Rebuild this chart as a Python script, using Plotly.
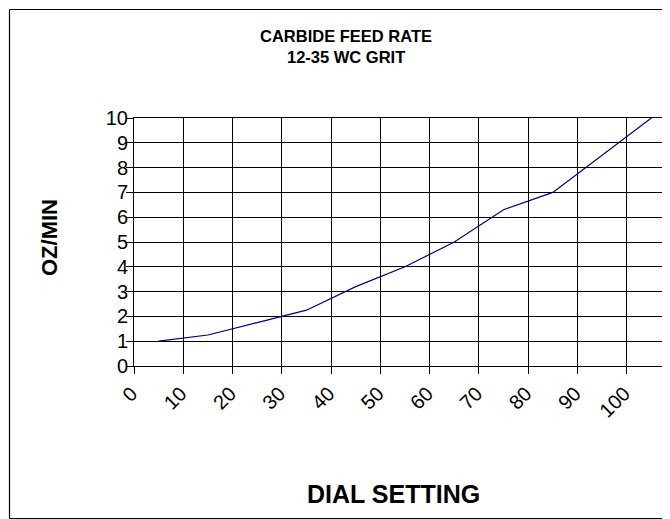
import plotly.graph_objects as go

dial_settings = ["0", "10", "20", "30", "40", "50", "60", "70", "80", "90", "100"]
oz_per_min = [1.0, 1.25, 1.75, 2.25, 3.2, 4.0, 5.0, 6.3, 7.0, 8.5, 10.0]
y_ticks = list(range(0, 11))

W, H = 670, 519
L, R, T, B = 126, 668, 110, 358  # plot area in pixels
pw, ph = R - L, B - T

def px(x):
    return (x - L) / pw

def py(y):
    return (B - y) / ph

FONT = "Arial, Liberation Sans, sans-serif"

fig = go.Figure()
fig.add_trace(go.Scatter(
    x=dial_settings, y=oz_per_min, mode="lines",
    line=dict(color="#000080", width=1.2),
    showlegend=False, hoverinfo="x+y",
))

frame_l, frame_r, frame_t, frame_b = 1.5, 669, 1.5, 510.5
frame_lines = [
    (frame_l, frame_t, frame_r, frame_t),
    (frame_l, frame_b, frame_r, frame_b),
    (frame_l, frame_t, frame_l, frame_b),
    (frame_r, frame_t, frame_r, frame_b),
]

fig.update_layout(
    width=W, height=H,
    margin=dict(l=L, r=W - R, t=T, b=H - B, pad=0),
    paper_bgcolor="white", plot_bgcolor="white",
    font=dict(family=FONT, color="black"),
    xaxis=dict(
        type="category", tickson="boundaries",
        showgrid=True, gridcolor="black", gridwidth=1,
        showline=True, linecolor="black", linewidth=1, mirror=True,
        ticks="outside", ticklen=7, tickcolor="black",
        tickangle=-45, tickfont=dict(size=20, family=FONT),
        ticklabelshift=-27, ticklabelstandoff=7,
        zeroline=False, range=[-0.5, 10.5],
    ),
    yaxis=dict(
        range=[0, 10], tickvals=y_ticks, ticktext=[str(v) for v in y_ticks],
        showgrid=True, gridcolor="black", gridwidth=1,
        showline=True, linecolor="black", linewidth=1, mirror=True,
        ticks="outside", ticklen=7, tickcolor="black",
        tickfont=dict(size=20, family=FONT), zeroline=False,
        ticklabelstandoff=-6,
    ),
    shapes=[dict(
        type="line", xref="paper", yref="paper",
        x0=px(a), y0=py(b), x1=px(c), y1=py(d),
        line=dict(color="black", width=1.2), layer="above",
    ) for (a, b, c, d) in frame_lines],
    annotations=[
        dict(text="<b>CARBIDE FEED RATE</b>", xref="paper", yref="paper",
             x=px(338), y=py(28), showarrow=False,
             font=dict(size=16.5, family=FONT), xanchor="center", yanchor="middle"),
        dict(text="<b>12-35 WC GRIT</b>", xref="paper", yref="paper",
             x=px(338), y=py(49), showarrow=False,
             font=dict(size=16.5, family=FONT), xanchor="center", yanchor="middle"),
        dict(text="<b>DIAL SETTING</b>", xref="paper", yref="paper",
             x=px(385), y=py(486), showarrow=False,
             font=dict(size=25, family=FONT), xanchor="center", yanchor="middle"),
        dict(text="<b>OZ/MIN</b>", xref="paper", yref="paper",
             x=px(41), y=py(230), showarrow=False, textangle=-90,
             font=dict(size=22, family=FONT), xanchor="center", yanchor="middle"),
    ],
)

fig.write_html("out.html")
